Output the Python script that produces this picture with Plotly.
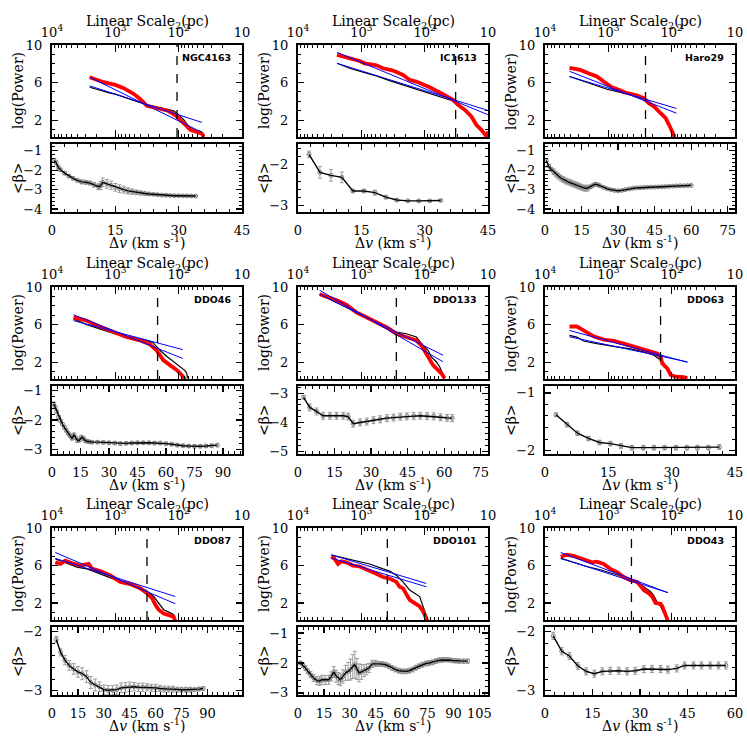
import plotly.graph_objects as go

# ---------------- data ----------------
names = ["NGC4163", "IC1613", "Haro29", "DDO46", "DDO133", "DDO63", "DDO87", "DDO101", "DDO43"]

# NGC4163
ngc4163_blk_lgpc = [3.405, 3.237, 3.079, 3.0, 2.816, 2.658, 2.5, 2.342, 2.184, 2.079, 2.0, 1.921, 1.842, 1.763, 1.658, 1.632, 1.616]
ngc4163_blk_pow = [5.50, 5.15, 4.87, 4.76, 4.34, 3.98, 3.63, 3.38, 3.17, 2.99, 2.57, 2.04, 1.33, 0.97, 0.80, 0.69, 0.2]
ngc4163_red_lgpc = [3.405, 3.289, 3.184, 3.0, 2.868, 2.711, 2.605, 2.5, 2.395, 2.289, 2.184, 2.105, 2.026, 1.974, 1.921, 1.816, 1.711, 1.632, 1.605]
ngc4163_red_pow = [6.57, 6.28, 6.04, 5.75, 5.40, 4.80, 4.23, 3.52, 3.38, 3.20, 3.03, 2.74, 2.39, 1.96, 1.68, 0.97, 0.69, 0.55, 0.2]
ngc4163_fit_lgpc = [3.405, 1.632]
ngc4163_fitA = [6.57, 0.69]
ngc4163_fitB = [5.65, 1.75]
ngc4163_dv = [0.5, 1, 1.5, 2, 3, 4, 5, 6, 7, 8, 9, 10, 11, 11.5, 12, 13, 14, 15, 16, 17, 18, 19, 20, 21, 22, 23, 24, 25, 26, 27, 28, 29, 30, 31, 32, 33, 34]
ngc4163_beta = [-1.5, -1.62, -1.85, -1.98, -2.15, -2.3, -2.42, -2.52, -2.6, -2.62, -2.66, -2.75, -2.85, -2.8, -2.62, -2.7, -2.78, -2.88, -2.95, -3.0, -3.06, -3.1, -3.14, -3.17, -3.2, -3.22, -3.24, -3.26, -3.28, -3.29, -3.3, -3.31, -3.31, -3.32, -3.32, -3.33, -3.33]
ngc4163_err = [0.1, 0.1, 0.1, 0.08, 0.08, 0.08, 0.08, 0.08, 0.1, 0.1, 0.1, 0.12, 0.15, 0.2, 0.22, 0.22, 0.22, 0.2, 0.2, 0.18, 0.16, 0.14, 0.12, 0.1, 0.08, 0.07, 0.06, 0.05, 0.05, 0.05, 0.04, 0.04, 0.04, 0.04, 0.04, 0.04, 0.04]

# IC1613
ic1613_blk_lgpc = [3.384, 3.184, 2.947, 2.763, 2.553, 2.342, 2.132, 1.921, 1.711, 1.526]
ic1613_blk_pow = [8.05, 7.52, 7.06, 6.71, 6.21, 5.75, 5.29, 4.87, 4.44, 3.98]
ic1613_red_lgpc = [3.384, 3.184, 3.026, 2.947, 2.763, 2.658, 2.5, 2.342, 2.237, 2.132, 1.921, 1.711, 1.553, 1.474, 1.368, 1.263, 1.184, 1.105, 1.053, 1.016, 1.0]
ic1613_red_pow = [8.94, 8.58, 8.30, 8.05, 7.84, 7.52, 7.27, 6.81, 6.28, 6.10, 5.50, 4.76, 4.16, 3.63, 3.10, 2.39, 1.50, 0.96, 0.44, 0.2, 0.8]
ic1613_fit_lgpc = [3.384, 1.0]
ic1613_fitA = [9.22, 2.57]
ic1613_fitB = [8.05, 3.03]
ic1613_dv = [2.6, 5.2, 7.8, 10.4, 13.0, 15.6, 18.2, 20.8, 23.4, 26.0, 28.6, 31.2, 33.8]
ic1613_beta = [-1.75, -2.19, -2.26, -2.31, -2.64, -2.64, -2.68, -2.79, -2.86, -2.88, -2.88, -2.88, -2.87]
ic1613_err = [0.08, 0.14, 0.14, 0.13, 0.04, 0.04, 0.06, 0.04, 0.03, 0.02, 0.02, 0.02, 0.02]

# Haro29
haro29_blk_lgpc = [3.614, 3.392, 3.18, 3.021, 2.81, 2.598, 2.44]
haro29_blk_pow = [6.64, 6.11, 5.65, 5.29, 4.94, 4.62, 4.34]
haro29_red_lgpc = [3.614, 3.444, 3.286, 3.18, 3.074, 2.942, 2.836, 2.73, 2.545, 2.44, 2.36, 2.28, 2.175, 2.095, 2.042, 1.989, 1.952]
haro29_red_pow = [7.56, 7.35, 6.92, 6.64, 6.11, 5.5, 5.22, 4.94, 4.62, 4.34, 3.8, 3.45, 2.74, 2.21, 1.5, 0.8, 0.2]
haro29_fit_lgpc = [3.614, 1.926]
haro29_fitA = [7.2, 2.74]
haro29_fitB = [6.64, 3.24]
haro29_dv = [0.5, 1.5, 2.5, 3.5, 4.5, 5.5, 6.5, 7.5, 8.5, 9.5, 10.5, 11.5, 12.5, 13.5, 14.5, 15.5, 16.5, 17.5, 18.5, 19.5, 20.5, 21.5, 22.5,
             24, 25.5, 27, 28.5, 30, 31.5, 33, 34.5, 36, 37.5, 39, 40.5, 42, 43.5, 45, 46.5, 48, 49.5, 51, 52.5, 54, 55.5, 57, 58.5, 60]
haro29_beta = [-1.5, -1.78, -1.95, -2.08, -2.2, -2.3, -2.4, -2.48, -2.55, -2.6, -2.65, -2.7, -2.75, -2.8, -2.85, -2.9, -2.93, -2.92, -2.86, -2.8,
               -2.72, -2.74, -2.8, -2.88, -2.95, -3.0, -3.04, -3.06, -3.04, -3.0, -2.96, -2.93, -2.91, -2.9, -2.89, -2.88, -2.87, -2.87, -2.86,
               -2.85, -2.84, -2.83, -2.82, -2.81, -2.8, -2.8, -2.79, -2.78]
haro29_err = [0.08, 0.08, 0.08] + [0.15] * 15 + [0.08] * 5 + [0.04] * 25

# DDO46
ddo46_blk_lgpc = [3.661, 3.46, 3.249, 3.01, 2.72, 2.508, 2.402, 2.296, 2.19, 2.085, 1.979, 1.9, 1.873, 1.86]
ddo46_blk_pow = [6.6, 6.0, 5.54, 5.02, 4.6, 4.32, 4.04, 3.26, 2.63, 2.04, 1.51, 1.09, 0.81, 0.28]
ddo46_red_lgpc = [3.661, 3.46, 3.249, 3.037, 2.825, 2.614, 2.455, 2.35, 2.243, 2.138, 2.032, 1.952, 1.9]
ddo46_red_pow = [6.77, 6.42, 5.79, 5.26, 4.67, 4.32, 3.9, 3.26, 2.21, 1.68, 1.16, 0.63, 0.15]
ddo46_fit_lgpc = [3.661, 1.936]
ddo46_fitA = [7.05, 2.39]
ddo46_fitB = [6.42, 3.33]
ddo46_dv = [0.9, 1.7, 2.5, 3.5, 4.5, 5.5, 6.5, 7.5, 8.5, 9.5, 10.5, 11.5, 12.5, 13.5, 14.5, 15.5, 16.5, 17.5, 18.5, 19.5,
            21, 24, 27, 30, 33, 36, 39, 42, 45, 48, 51, 54, 57, 60, 63, 66, 69, 72, 75, 78, 81, 84, 87]
ddo46_beta = [-1.45, -1.57, -1.72, -1.9, -2.03, -2.14, -2.25, -2.35, -2.45, -2.53, -2.62, -2.5, -2.6, -2.7, -2.68, -2.58, -2.62, -2.7, -2.72, -2.74,
              -2.75, -2.75, -2.76, -2.77, -2.78, -2.8, -2.79, -2.78, -2.77, -2.77, -2.77, -2.78, -2.78, -2.8, -2.82, -2.85, -2.87, -2.88, -2.89,
              -2.89, -2.88, -2.87, -2.85]
ddo46_err = [0.05] * 43

# DDO133
ddo133_blk_lgpc = [3.658, 3.447, 3.184, 2.974, 2.763, 2.553, 2.447, 2.289, 2.132, 2.026, 1.947, 1.895, 1.816, 1.763, 1.711, 1.684]
ddo133_blk_pow = [9.23, 8.53, 7.65, 6.95, 6.25, 5.65, 5.19, 5.02, 4.67, 3.79, 3.26, 2.56, 2.04, 1.51, 0.74, 0.28]
ddo133_red_lgpc = [3.658, 3.5, 3.368, 3.237, 3.079, 2.921, 2.763, 2.605, 2.447, 2.289, 2.132, 2.053, 1.974, 1.921, 1.868, 1.816, 1.737, 1.684]
ddo133_red_pow = [9.23, 8.88, 8.53, 8.11, 7.3, 6.77, 6.25, 5.72, 5.02, 4.67, 4.32, 3.79, 2.91, 2.21, 1.68, 1.33, 0.81, 0.28]
ddo133_fit_lgpc = [3.658, 1.711]
ddo133_fitA = [9.65, 2.04]
ddo133_fitB = [9.23, 2.74]
ddo133_dv = [2.3, 4.8, 7.6, 10.3, 13.1, 15.8, 18.6, 20.6, 22.7, 25.5, 28.2, 31.0, 33.7, 36.5, 39.2, 42.0, 44.7, 47.5, 50.2, 53.0, 55.7, 58.5, 61.2, 63.3]
ddo133_beta = [-3.14, -3.49, -3.63, -3.78, -3.78, -3.78, -3.78, -3.81, -4.05, -4.01, -3.98, -3.93, -3.9, -3.86, -3.84, -3.81, -3.8, -3.79, -3.78, -3.79, -3.8, -3.83, -3.85, -3.86]
ddo133_err = [0.06] + [0.12] * 23

# DDO63
ddo63_blk_lgpc = [3.614, 3.497, 3.392, 3.18, 2.915, 2.651, 2.439, 2.28, 2.175, 2.122]
ddo63_blk_pow = [4.84, 4.67, 4.25, 3.96, 3.68, 3.4, 3.09, 2.74, 2.21, 1.86]
ddo63_red_lgpc = [3.614, 3.497, 3.392, 3.233, 3.074, 2.915, 2.757, 2.545, 2.333, 2.228, 2.175, 2.148, 2.122, 2.069, 2.016, 1.937, 1.804, 1.751]
ddo63_red_pow = [5.79, 5.79, 5.37, 4.74, 4.39, 4.25, 3.96, 3.54, 3.09, 2.91, 2.56, 1.86, 1.68, 1.33, 0.63, 0.46, 0.39, 0.28]
ddo63_fit_lgpc = [3.614, 1.751]
ddo63_fitA = [5.37, 1.98]
ddo63_fitB = [4.7, 2.02]
ddo63_dv = [2.6, 5.2, 7.7, 10.3, 12.9, 15.5, 18.0, 20.6, 23.3, 25.8, 28.3, 31.0, 33.6, 36.1, 38.7, 41.3]
ddo63_beta = [-1.38, -1.55, -1.70, -1.79, -1.86, -1.88, -1.92, -1.95, -1.95, -1.95, -1.95, -1.95, -1.95, -1.95, -1.95, -1.94]
ddo63_err = [0.03] + [0.04] * 15

# DDO87
ddo87_blk_lgpc = [3.947, 3.763, 3.605, 3.447, 3.237, 3.0, 2.816, 2.605, 2.5, 2.395, 2.316, 2.237, 2.132, 2.079, 2.053]
ddo87_blk_pow = [6.7, 6.24, 5.83, 5.65, 5.13, 4.5, 4.02, 3.67, 3.29, 2.7, 2.0, 1.3, 0.96, 0.78, 0.09]
ddo87_red_lgpc = [3.947, 3.868, 3.789, 3.684, 3.553, 3.421, 3.368, 3.237, 3.079, 2.921, 2.763, 2.605, 2.5, 2.421, 2.368, 2.316, 2.237, 2.132, 2.079, 2.053]
ddo87_red_pow = [6.35, 6.17, 6.52, 6.24, 6.0, 6.17, 5.65, 5.41, 4.96, 4.26, 4.02, 3.57, 3.04, 2.52, 1.83, 1.3, 0.89, 0.68, 0.54, 0.09]
ddo87_fit_lgpc = [3.947, 2.053]
ddo87_fitA = [7.39, 1.93]
ddo87_fitB = [6.77, 2.7]
ddo87_dv = [2.5, 5, 7.5, 10, 12.5, 15, 17.5, 20, 22.5, 25, 27.5, 30, 32.5, 35, 37.5, 40, 42.5, 45, 47.5, 50, 52.5, 55, 57.5, 60,
            62.5, 65, 67.5, 70, 72.5, 75, 77.5, 80, 82.5, 85, 87.5]
ddo87_beta = [-2.13, -2.35, -2.48, -2.57, -2.63, -2.68, -2.71, -2.76, -2.86, -2.90, -2.93, -2.98, -2.99, -2.99, -2.98, -2.95, -2.94, -2.93,
              -2.93, -2.94, -2.94, -2.94, -2.95, -2.95, -2.96, -2.97, -2.97, -2.97, -2.98, -2.98, -2.98, -2.98, -2.98, -2.97, -2.96]
ddo87_err = [0.05, 0.06, 0.08, 0.08, 0.09, 0.09, 0.1, 0.1, 0.1, 0.1] + [0.08] * 8 + [0.07] * 3 + [0.06] * 3 + [0.05] * 4 + [0.04] * 4 + [0.03] * 3

# DDO101
ddo101_blk_lgpc = [3.474, 3.289, 3.079, 2.868, 2.658, 2.553, 2.447, 2.342, 2.237, 2.132, 2.079, 2.026, 1.974, 1.947]
ddo101_blk_pow = [7.11, 6.8, 6.52, 6.17, 5.65, 5.41, 4.96, 4.26, 3.39, 2.87, 2.7, 1.65, 0.78, 0.19]
ddo101_red_lgpc = [3.474, 3.421, 3.368, 3.316, 3.237, 3.132, 3.026, 2.868, 2.763, 2.658, 2.553, 2.447, 2.395, 2.342, 2.289, 2.237, 2.158, 2.079, 2.026, 1.974, 1.958]
ddo101_red_pow = [6.94, 6.7, 6.17, 6.45, 6.35, 6.0, 5.9, 5.48, 5.13, 4.78, 4.61, 4.26, 3.74, 3.57, 3.04, 2.35, 2.0, 1.65, 1.13, 0.43, 0.09]
ddo101_fit_lgpc = [3.474, 1.974]
ddo101_fitA = [7.15, 4.09]
ddo101_fitB = [6.8, 3.74]
ddo101_dv = [1.4, 2.9, 4.3, 5.7, 7.2, 9.0, 11.0, 12.5, 13.9, 15.8, 17.8, 19.3, 20.7, 22.1, 23.4, 24.6, 26.0, 27.5, 29.0, 30.4,
             31.7, 32.9, 34.1, 35.3, 36.7, 38.2, 39.6, 41.1, 43.0, 44.9, 46.9, 48.8, 50.8, 52.7, 54.6, 56.5, 58.5, 60.4, 62.4, 64.3,
             66.3, 68.2, 70.1, 72.0, 74.0, 75.9, 77.9, 79.8, 81.8, 83.7, 85.6, 87.5, 89.5, 91.4, 93.4, 95.8, 98.2]
ddo101_beta = [-2.0, -2.08, -2.17, -2.28, -2.39, -2.5, -2.59, -2.6, -2.56, -2.57, -2.56, -2.45, -2.3, -2.44, -2.52, -2.56, -2.45, -2.33, -2.28, -2.22,
               -2.12, -2.06, -2.2, -2.33, -2.3, -2.26, -2.22, -2.17, -2.03, -2.02, -2.03, -2.04, -2.06, -2.11, -2.17, -2.22, -2.26, -2.28, -2.28, -2.26,
               -2.22, -2.16, -2.11, -2.06, -2.02, -2.0, -1.98, -1.94, -1.91, -1.9, -1.89, -1.9, -1.92, -1.93, -1.94, -1.94, -1.94]
ddo101_err = [0.06, 0.07, 0.08, 0.08, 0.1, 0.12, 0.14, 0.15, 0.15, 0.15, 0.15, 0.15, 0.18, 0.2, 0.2, 0.2, 0.22, 0.25, 0.3, 0.35,
              0.4, 0.45, 0.35, 0.3, 0.25, 0.2, 0.18, 0.15, 0.12, 0.1] + [0.08] * 20 + [0.07] * 7

# DDO43
ddo43_blk_lgpc = [3.751, 3.55, 3.339, 3.127, 2.915, 2.757, 2.651, 2.545, 2.439, 2.333, 2.28, 2.228, 2.175, 2.148, 2.095]
ddo43_blk_pow = [6.77, 6.35, 5.9, 5.55, 5.13, 4.78, 4.5, 4.16, 3.74, 3.22, 2.77, 2.07, 1.65, 1.3, 0.6]
ddo43_red_lgpc = [3.751, 3.656, 3.55, 3.392, 3.259, 3.18, 3.074, 2.968, 2.862, 2.757, 2.651, 2.545, 2.439, 2.36, 2.307, 2.254, 2.175, 2.148, 2.122, 2.095, 2.058]
ddo43_red_pow = [6.94, 7.15, 7.04, 6.7, 6.35, 6.42, 6.17, 5.65, 5.3, 4.78, 4.43, 4.26, 3.39, 3.04, 2.7, 2.0, 1.93, 1.65, 1.13, 0.61, 0.09]
ddo43_fit_lgpc = [3.751, 2.058]
ddo43_fitA = [7.39, 3.11]
ddo43_fitB = [6.77, 3.11]
ddo43_dv = [2.6, 5.3, 7.7, 10.4, 13.0, 15.6, 18.1, 20.6, 23.3, 25.9, 28.5, 31.2, 33.8, 36.5, 38.8, 41.6, 44.1, 46.9, 49.4, 52.2, 54.8, 57.1]
ddo43_beta = [-2.07, -2.33, -2.41, -2.58, -2.67, -2.71, -2.67, -2.66, -2.66, -2.67, -2.66, -2.63, -2.63, -2.63, -2.64, -2.62, -2.57, -2.57, -2.57, -2.57, -2.57, -2.57]
ddo43_err = [0.06] * 22

# dashed-line scale (log10 pc) and axis settings
dashed_lgpc = [2.026, 1.511, 2.413, 2.333, 2.447, 2.175, 2.5, 2.589, 2.635]
dv_max = [45, 45, 78, 100, 78, 45, 110, 110, 60]
dv_ticks_max = [45, 45, 75, 90, 75, 45, 90, 105, 60]
beta_range = [[-4.15, -0.65], [-3.15, -1.5], [-4.15, -0.65], [-3.15, -0.85], [-5.1, -2.75],
              [-2.06, -0.88], [-3.07, -1.92], [-3.07, -0.8], [-3.07, -1.92]]
beta_ticks = [[-1, -2, -3, -4], [-2, -3], [-1, -2, -3, -4], [-1, -2, -3], [-3, -4, -5],
              [-1, -2], [-2, -3], [-1, -2, -3], [-2, -3]]
scale_ticks = [1e4, 1e3, 1e2, 10]
scale_ticktext = ["10<sup>4</sup>", "10<sup>3</sup>", "10<sup>2</sup>", "10"]
power_ticks = [2, 6, 10]

panels = [
    (ngc4163_blk_lgpc, ngc4163_blk_pow, ngc4163_red_lgpc, ngc4163_red_pow, ngc4163_fit_lgpc, ngc4163_fitA, ngc4163_fitB, ngc4163_dv, ngc4163_beta, ngc4163_err),
    (ic1613_blk_lgpc, ic1613_blk_pow, ic1613_red_lgpc, ic1613_red_pow, ic1613_fit_lgpc, ic1613_fitA, ic1613_fitB, ic1613_dv, ic1613_beta, ic1613_err),
    (haro29_blk_lgpc, haro29_blk_pow, haro29_red_lgpc, haro29_red_pow, haro29_fit_lgpc, haro29_fitA, haro29_fitB, haro29_dv, haro29_beta, haro29_err),
    (ddo46_blk_lgpc, ddo46_blk_pow, ddo46_red_lgpc, ddo46_red_pow, ddo46_fit_lgpc, ddo46_fitA, ddo46_fitB, ddo46_dv, ddo46_beta, ddo46_err),
    (ddo133_blk_lgpc, ddo133_blk_pow, ddo133_red_lgpc, ddo133_red_pow, ddo133_fit_lgpc, ddo133_fitA, ddo133_fitB, ddo133_dv, ddo133_beta, ddo133_err),
    (ddo63_blk_lgpc, ddo63_blk_pow, ddo63_red_lgpc, ddo63_red_pow, ddo63_fit_lgpc, ddo63_fitA, ddo63_fitB, ddo63_dv, ddo63_beta, ddo63_err),
    (ddo87_blk_lgpc, ddo87_blk_pow, ddo87_red_lgpc, ddo87_red_pow, ddo87_fit_lgpc, ddo87_fitA, ddo87_fitB, ddo87_dv, ddo87_beta, ddo87_err),
    (ddo101_blk_lgpc, ddo101_blk_pow, ddo101_red_lgpc, ddo101_red_pow, ddo101_fit_lgpc, ddo101_fitA, ddo101_fitB, ddo101_dv, ddo101_beta, ddo101_err),
    (ddo43_blk_lgpc, ddo43_blk_pow, ddo43_red_lgpc, ddo43_red_pow, ddo43_fit_lgpc, ddo43_fitA, ddo43_fitB, ddo43_dv, ddo43_beta, ddo43_err),
]

# ---------------- layout geometry (pixels) ----------------
W = H = 747
col_left = [52, 298, 545]
row_top = [45, 287, 528]
PW, TH, GAP, BH = 190, 92, 7, 68

SERIF = "DejaVu Serif, Liberation Serif, serif"
tickfont = dict(family=SERIF, size=13, color="black")
titlefont = dict(family=SERIF, size=14, color="black")

def fx(p):
    return p / W

def fy(p):
    return 1 - p / H

log_minor = [m * 10 ** e for e in (1, 2, 3) for m in range(2, 10)]

fig = go.Figure()
layout = {}
annotations = []
shapes = []

for g in range(9):
    r, c = divmod(g, 3)
    L, T = col_left[c], row_top[r]
    blk_x, blk_y, red_x, red_y, fit_x, fitA, fitB, dv, beta, err = panels[g]
    ia, ib = 2 * g + 1, 2 * g + 2
    xa = "x" if ia == 1 else f"x{ia}"
    ya = "y" if ia == 1 else f"y{ia}"
    xb, yb = f"x{ib}", f"y{ib}"
    kxa = "xaxis" if ia == 1 else f"xaxis{ia}"
    kya = "yaxis" if ia == 1 else f"yaxis{ia}"
    kxb, kyb = f"xaxis{ib}", f"yaxis{ib}"

    common = dict(showline=True, linewidth=2, linecolor="black", mirror="allticks",
                  ticks="inside", tickcolor="black", tickwidth=1.2, showgrid=False,
                  zeroline=False, tickfont=tickfont, automargin=False)

    # upper panel axes
    layout[kxa] = dict(common, type="log", range=[4, 1], domain=[fx(L), fx(L + PW)], anchor=ya,
                       side="top", tickmode="array", tickvals=scale_ticks, ticktext=scale_ticktext,
                       ticklen=7, ticklabelstandoff=1,
                       minor=dict(tickmode="array", tickvals=log_minor, ticks="inside",
                                  ticklen=3, tickcolor="black", tickwidth=1))
    layout[kya] = dict(common, range=[0.2, 10], domain=[fy(T + TH), fy(T)], anchor=xa,
                       tickmode="array", tickvals=power_ticks,
                       ticklen=6, ticklabelstandoff=5,
                       minor=dict(dtick=1, tick0=0, ticks="inside", ticklen=3, tickcolor="black", tickwidth=1))
    # lower panel axes
    layout[kxb] = dict(common, range=[0, dv_max[g]], domain=[fx(L), fx(L + PW)], anchor=yb,
                       tickmode="array", tickvals=list(range(0, dv_ticks_max[g] + 1, 15)),
                       ticklen=6, ticklabelstandoff=5,
                       minor=dict(dtick=3, tick0=0, ticks="inside", ticklen=3, tickcolor="black", tickwidth=1))
    layout[kyb] = dict(common, range=beta_range[g], domain=[fy(T + TH + GAP + BH), fy(T + TH + GAP)],
                       anchor=xb, tickmode="array", tickvals=beta_ticks[g], ticklen=6, ticklabelstandoff=5,
                       minor=dict(dtick=0.2, tick0=0, ticks="inside", ticklen=3, tickcolor="black", tickwidth=1))

    # upper panel traces
    fig.add_trace(go.Scatter(x=[10 ** v for v in blk_x], y=blk_y, mode="lines",
                             line=dict(color="black", width=1.2), xaxis=xa, yaxis=ya, showlegend=False))
    fig.add_trace(go.Scatter(x=[10 ** v for v in red_x], y=red_y, mode="lines",
                             line=dict(color="#ff0000", width=3.8), xaxis=xa, yaxis=ya, showlegend=False))
    for fit in (fitA, fitB):
        fig.add_trace(go.Scatter(x=[10 ** v for v in fit_x], y=fit, mode="lines",
                                 line=dict(color="#0000ff", width=1), xaxis=xa, yaxis=ya, showlegend=False))
    shapes.append(dict(type="line", xref=xa, yref=f"{ya} domain", x0=10 ** dashed_lgpc[g], x1=10 ** dashed_lgpc[g],
                       y0=0, y1=1, line=dict(color="black", width=1.3, dash="dash")))

    # lower panel traces
    fig.add_trace(go.Scatter(x=dv, y=beta, mode="markers",
                             marker=dict(symbol="circle-open", size=4, color="#808080", line=dict(width=1)),
                             error_y=dict(type="data", array=err, color="#9a9a9a", thickness=1, width=2),
                             xaxis=xb, yaxis=yb, showlegend=False))
    fig.add_trace(go.Scatter(x=dv, y=beta, mode="lines", line=dict(color="black", width=1.4),
                             xaxis=xb, yaxis=yb, showlegend=False))

    # texts
    annotations.append(dict(text="Linear Scale<sub>2</sub>(pc)", xref="paper", yref="paper",
                            x=fx(L + PW / 2), y=fy(T - 23), xanchor="center", yanchor="middle",
                            showarrow=False, font=titlefont))
    annotations.append(dict(text="Δ<i>v</i> (km s<sup>-1</sup>)", xref="paper", yref="paper",
                            x=fx(L + PW / 2), y=fy(T + TH + GAP + BH + 30), xanchor="center", yanchor="middle",
                            showarrow=False, font=titlefont))
    annotations.append(dict(text="log(Power)", xref="paper", yref="paper", textangle=-90,
                            x=fx(L - 34), y=fy(T + TH / 2), xanchor="center", yanchor="middle",
                            showarrow=False, font=titlefont))
    annotations.append(dict(text="&lt;β&gt;", xref="paper", yref="paper", textangle=-90,
                            x=fx(L - 34), y=fy(T + TH + GAP + BH / 2), xanchor="center", yanchor="middle",
                            showarrow=False, font=titlefont))
    annotations.append(dict(text=f"<b>{names[g]}</b>", xref="paper", yref="paper",
                            x=fx(L + PW - 9), y=fy(T + 5), xanchor="right", yanchor="top",
                            showarrow=False, font=dict(family="DejaVu Sans", size=9.5, color="black")))

fig.update_layout(width=W, height=H, margin=dict(l=0, r=0, t=0, b=0, pad=0, autoexpand=False),
                  paper_bgcolor="white", plot_bgcolor="white",
                  annotations=annotations, shapes=shapes, **layout)

fig.write_html("out.html", config={"displayModeBar": False, "staticPlot": True},
               post_script="document.body.style.margin='0';document.body.style.overflow='hidden';")
